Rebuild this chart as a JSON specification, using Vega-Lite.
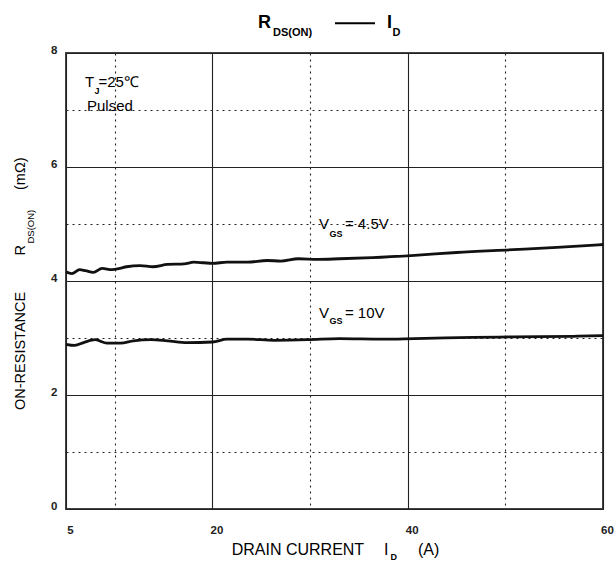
{
  "$schema": "https://vega.github.io/schema/vega-lite/v6.json",
  "width": 537,
  "height": 456,
  "autosize": {"type": "none"},
  "padding": {"left": 66, "top": 53, "right": 12, "bottom": 52},
  "background": "white",
  "config": {"view": {"stroke": "#444", "strokeWidth": 2}},
  "datasets": {
    "curves": [
      {"x": 5, "y": 4.16, "s": "4.5V"}, {"x": 5.6, "y": 4.13, "s": "4.5V"}, {"x": 6.4, "y": 4.2, "s": "4.5V"},
      {"x": 7.0, "y": 4.18, "s": "4.5V"}, {"x": 7.8, "y": 4.15, "s": "4.5V"}, {"x": 8.7, "y": 4.22, "s": "4.5V"},
      {"x": 9.7, "y": 4.2, "s": "4.5V"}, {"x": 10.5, "y": 4.22, "s": "4.5V"}, {"x": 11.2, "y": 4.25, "s": "4.5V"},
      {"x": 12.6, "y": 4.27, "s": "4.5V"}, {"x": 13.9, "y": 4.25, "s": "4.5V"}, {"x": 15.4, "y": 4.29, "s": "4.5V"},
      {"x": 17.1, "y": 4.3, "s": "4.5V"}, {"x": 18.1, "y": 4.33, "s": "4.5V"}, {"x": 19.1, "y": 4.32, "s": "4.5V"},
      {"x": 20, "y": 4.31, "s": "4.5V"}, {"x": 21.5, "y": 4.33, "s": "4.5V"}, {"x": 23.6, "y": 4.33, "s": "4.5V"},
      {"x": 25.6, "y": 4.36, "s": "4.5V"}, {"x": 27, "y": 4.35, "s": "4.5V"}, {"x": 28.8, "y": 4.39, "s": "4.5V"},
      {"x": 30.8, "y": 4.38, "s": "4.5V"}, {"x": 33, "y": 4.39, "s": "4.5V"}, {"x": 36.4, "y": 4.41, "s": "4.5V"},
      {"x": 40.7, "y": 4.45, "s": "4.5V"}, {"x": 45, "y": 4.5, "s": "4.5V"}, {"x": 50.8, "y": 4.55, "s": "4.5V"},
      {"x": 55.3, "y": 4.59, "s": "4.5V"}, {"x": 60, "y": 4.64, "s": "4.5V"},
      {"x": 5, "y": 2.89, "s": "10V"}, {"x": 5.9, "y": 2.87, "s": "10V"}, {"x": 6.8, "y": 2.92, "s": "10V"},
      {"x": 8, "y": 2.97, "s": "10V"}, {"x": 9.2, "y": 2.91, "s": "10V"}, {"x": 10.6, "y": 2.91, "s": "10V"},
      {"x": 11.9, "y": 2.95, "s": "10V"}, {"x": 13.7, "y": 2.97, "s": "10V"}, {"x": 15.4, "y": 2.95, "s": "10V"},
      {"x": 17.4, "y": 2.92, "s": "10V"}, {"x": 20, "y": 2.93, "s": "10V"}, {"x": 21.5, "y": 2.98, "s": "10V"},
      {"x": 23.6, "y": 2.98, "s": "10V"}, {"x": 26.3, "y": 2.96, "s": "10V"}, {"x": 29.8, "y": 2.97, "s": "10V"},
      {"x": 33, "y": 2.99, "s": "10V"}, {"x": 37.4, "y": 2.98, "s": "10V"}, {"x": 40.7, "y": 2.99, "s": "10V"},
      {"x": 46.7, "y": 3.01, "s": "10V"}, {"x": 50.8, "y": 3.02, "s": "10V"}, {"x": 57, "y": 3.03, "s": "10V"},
      {"x": 60, "y": 3.04, "s": "10V"}
    ],
    "titleBig": [
      {"x": 24.66, "y": 8.433, "t": "R"},
      {"x": 37.88, "y": 8.433, "t": "I"}
    ],
    "titleSub": [
      {"x": 26.2, "y": 8.298, "t": "DS(ON)"},
      {"x": 38.44, "y": 8.298, "t": "D"}
    ],
    "titleDash": [{"x": 32.55, "x2": 36.65, "y": 8.521}],
    "anno": [
      {"x": 6.95, "y": 7.409, "t": "T"},
      {"x": 8.33, "y": 7.409, "t": "=25℃"},
      {"x": 7.15, "y": 6.982, "t": "Pulsed"},
      {"x": 30.91, "y": 4.907, "t": "V"},
      {"x": 33.57, "y": 4.907, "t": "= 4.5V"},
      {"x": 30.91, "y": 3.346, "t": "V"},
      {"x": 33.57, "y": 3.346, "t": "= 10V"}
    ],
    "annoSub": [
      {"x": 7.92, "y": 7.289, "t": "J"},
      {"x": 31.99, "y": 4.777, "t": "GS"},
      {"x": 31.99, "y": 3.237, "t": "GS"}
    ],
    "xTitle": [
      {"x": 21.97, "y": -0.807, "t": "DRAIN CURRENT"},
      {"x": 37.57, "y": -0.807, "t": "I"},
      {"x": 41.05, "y": -0.807, "t": "(A)"}
    ],
    "xTitleSub": [{"x": 38.23, "y": -0.895, "t": "D"}],
    "yTitle": [
      {"x": 0.801, "y": 1.737, "t": "ON-RESISTANCE"},
      {"x": 0.801, "y": 4.447, "t": "R"},
      {"x": 0.801, "y": 5.596, "t": "(mΩ)"}
    ],
    "yTitleSub": [{"x": 1.723, "y": 4.658, "t": "DS(ON)"}]
  },
  "encoding": {
    "x": {
      "field": "x", "type": "quantitative",
      "scale": {"domain": [5, 60], "nice": false, "zero": false},
      "axis": {
        "values": [5, 10, 20, 30, 40, 50, 60],
        "labelExpr": "(datum.value % 20 === 0 || datum.value === 5) ? datum.label : ''",
        "grid": true,
        "gridDash": {"condition": {"test": "datum.value % 20 === 0 || datum.value === 5", "value": []}, "value": [2, 4]},
        "gridColor": "#222",
        "gridWidth": 1.1,
        "ticks": false,
        "domain": false,
        "title": null,
        "labelFont": "Liberation Sans",
        "labelFontWeight": "bold",
        "labelFontSize": 11.5,
        "labelColor": "#222",
        "labelPadding": 15,
        "labelOffset": 4,
        "labelFlush": false
      }
    },
    "y": {
      "field": "y", "type": "quantitative",
      "scale": {"domain": [0, 8], "nice": false},
      "axis": {
        "values": [0, 1, 2, 3, 4, 5, 6, 7, 8],
        "labelExpr": "datum.value % 2 === 0 ? datum.label : ''",
        "grid": true,
        "gridDash": {"condition": {"test": "datum.value % 2 === 0", "value": []}, "value": [2, 4]},
        "gridColor": "#222",
        "gridWidth": 1.1,
        "ticks": false,
        "domain": false,
        "title": null,
        "labelFont": "Liberation Sans",
        "labelFontWeight": "bold",
        "labelFontSize": 11.5,
        "labelColor": "#222",
        "labelPadding": 9,
        "labelOffset": -3,
        "labelFlush": false
      }
    }
  },
  "layer": [
    {
      "data": {"name": "curves"},
      "mark": {"type": "line", "color": "#111", "strokeWidth": 2.8, "interpolate": "monotone"},
      "encoding": {"detail": {"field": "s"}}
    },
    {
      "data": {"name": "titleBig"},
      "mark": {"type": "text", "font": "Liberation Sans", "fontWeight": "bold", "fontSize": 18, "align": "left", "baseline": "alphabetic", "color": "#000"},
      "encoding": {"text": {"field": "t"}}
    },
    {
      "data": {"name": "titleSub"},
      "mark": {"type": "text", "font": "Liberation Sans", "fontWeight": "bold", "fontSize": 11, "align": "left", "baseline": "alphabetic", "color": "#000"},
      "encoding": {"text": {"field": "t"}}
    },
    {
      "data": {"name": "titleDash"},
      "mark": {"type": "rule", "color": "#000", "strokeWidth": 2},
      "encoding": {"x2": {"field": "x2"}}
    },
    {
      "data": {"name": "anno"},
      "mark": {"type": "text", "font": "Liberation Sans", "fontSize": 15, "align": "left", "baseline": "alphabetic", "color": "#000"},
      "encoding": {"text": {"field": "t"}}
    },
    {
      "data": {"name": "annoSub"},
      "mark": {"type": "text", "font": "Liberation Sans", "fontWeight": "bold", "fontSize": 9, "align": "left", "baseline": "alphabetic", "color": "#000"},
      "encoding": {"text": {"field": "t"}}
    },
    {
      "data": {"name": "xTitle"},
      "mark": {"type": "text", "font": "Liberation Sans", "fontSize": 16, "align": "left", "baseline": "alphabetic", "color": "#000"},
      "encoding": {"text": {"field": "t"}}
    },
    {
      "data": {"name": "xTitleSub"},
      "mark": {"type": "text", "font": "Liberation Sans", "fontWeight": "bold", "fontSize": 9, "align": "left", "baseline": "alphabetic", "color": "#000"},
      "encoding": {"text": {"field": "t"}}
    },
    {
      "data": {"name": "yTitle"},
      "mark": {"type": "text", "font": "Liberation Sans Narrow, Liberation Sans", "fontSize": 14.5, "align": "left", "baseline": "alphabetic", "angle": 270, "color": "#000"},
      "encoding": {"text": {"field": "t"}}
    },
    {
      "data": {"name": "yTitleSub"},
      "mark": {"type": "text", "font": "Liberation Sans Narrow, Liberation Sans", "fontSize": 9.5, "align": "left", "baseline": "alphabetic", "angle": 270, "color": "#000"},
      "encoding": {"text": {"field": "t"}}
    }
  ]
}
